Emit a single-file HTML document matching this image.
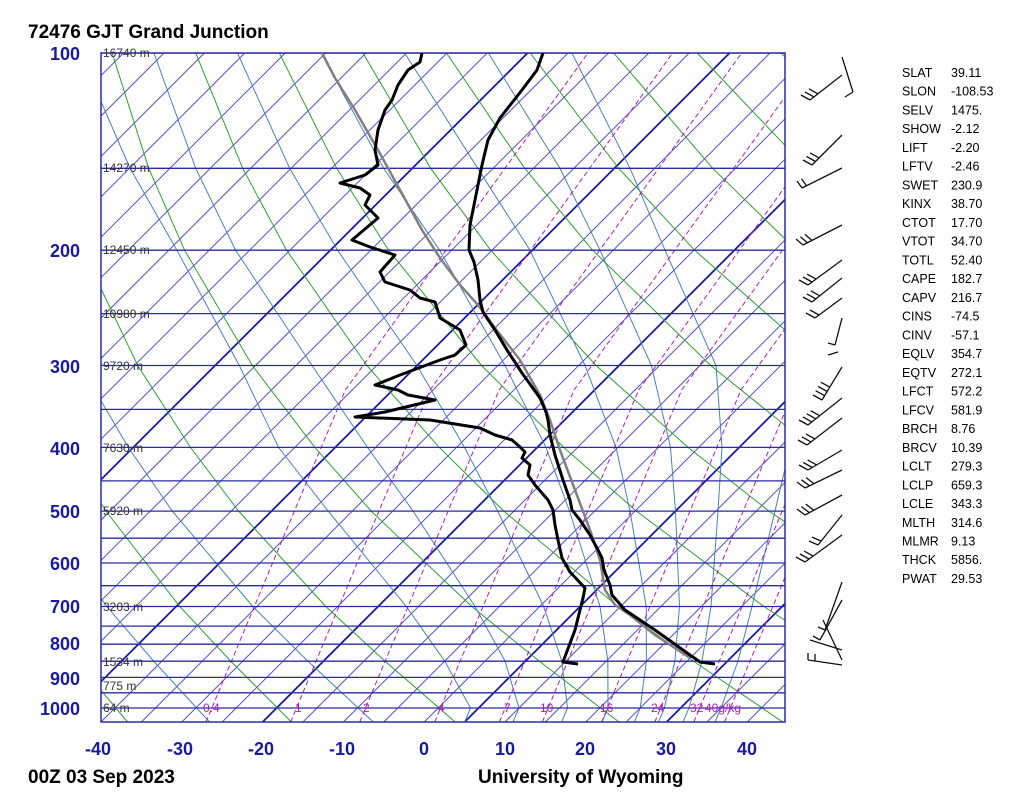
<!DOCTYPE html>
<html><head><meta charset="utf-8"><style>
body{margin:0;background:#fff;width:1024px;height:801px;overflow:hidden;font-family:"Liberation Sans",sans-serif}
svg{position:absolute;left:0;top:0}
</style></head><body>
<svg width="1024" height="801" xmlns="http://www.w3.org/2000/svg" font-family="Liberation Sans, sans-serif">
<defs><clipPath id="cp"><rect x="101" y="53" width="684" height="669"/></clipPath></defs>
<g clip-path="url(#cp)" fill="none">
<g stroke="#5050cc" stroke-width="1">
<line x1="-545.4" y1="722" x2="123.6" y2="53"/><line x1="-505" y1="722" x2="164" y2="53"/><line x1="-464.6" y1="722" x2="204.4" y2="53"/><line x1="-424.2" y1="722" x2="244.8" y2="53"/><line x1="-383.8" y1="722" x2="285.2" y2="53"/><line x1="-343.4" y1="722" x2="325.6" y2="53"/><line x1="-303" y1="722" x2="366" y2="53"/><line x1="-262.6" y1="722" x2="406.4" y2="53"/><line x1="-222.2" y1="722" x2="446.8" y2="53"/><line x1="-181.8" y1="722" x2="487.2" y2="53"/><line x1="-101" y1="722" x2="568" y2="53"/><line x1="-60.6" y1="722" x2="608.4" y2="53"/><line x1="-20.2" y1="722" x2="648.8" y2="53"/><line x1="20.2" y1="722" x2="689.2" y2="53"/><line x1="101" y1="722" x2="770" y2="53"/><line x1="141.4" y1="722" x2="810.4" y2="53"/><line x1="181.8" y1="722" x2="850.8" y2="53"/><line x1="222.2" y1="722" x2="891.2" y2="53"/><line x1="303" y1="722" x2="972" y2="53"/><line x1="343.4" y1="722" x2="1012.4" y2="53"/><line x1="383.8" y1="722" x2="1052.8" y2="53"/><line x1="424.2" y1="722" x2="1093.2" y2="53"/><line x1="505" y1="722" x2="1174" y2="53"/><line x1="545.4" y1="722" x2="1214.4" y2="53"/><line x1="585.8" y1="722" x2="1254.8" y2="53"/><line x1="626.2" y1="722" x2="1295.2" y2="53"/><line x1="707" y1="722" x2="1376" y2="53"/><line x1="747.4" y1="722" x2="1416.4" y2="53"/>
</g>
<g stroke="#1a1aa0" stroke-width="1.8">
<line x1="-141.4" y1="722" x2="527.6" y2="53"/><line x1="60.6" y1="722" x2="729.6" y2="53"/><line x1="262.6" y1="722" x2="931.6" y2="53"/><line x1="464.6" y1="722" x2="1133.6" y2="53"/><line x1="666.6" y1="722" x2="1335.6" y2="53"/>
</g>
<g stroke="#2ea02e" stroke-width="1">
<polyline points="127.6,722 76.4,661 33.8,606.5 -26.7,511"/>
<polyline points="291.4,722 230.6,661 179.8,606.5 105.9,511 66.1,447.4 23.1,365.5"/>
<polyline points="455.2,722 384.8,661 325.8,606.5 238.5,511 190.5,447.4 137.7,365.5 82.6,250.2 54.7,168.3 28.5,53"/>
<polyline points="619,722 539,661 471.8,606.5 371.1,511 314.9,447.4 252.3,365.5 184.6,250.2 148.7,168.3 112.1,53"/>
<polyline points="782.8,722 693.2,661 617.8,606.5 503.7,511 439.3,447.4 366.9,365.5 286.6,250.2 242.7,168.3 195.7,53"/>
<polyline points="946.6,722 847.4,661 763.8,606.5 636.3,511 563.7,447.4 481.5,365.5 388.6,250.2 336.7,168.3 279.3,53"/>
<polyline points="1001.6,661 909.8,606.5 768.9,511 688.1,447.4 596.1,365.5 490.6,250.2 430.7,168.3 362.9,53"/>
<polyline points="1055.8,606.5 901.5,511 812.5,447.4 710.7,365.5 592.6,250.2 524.7,168.3 446.5,53"/>
<polyline points="1034.1,511 936.9,447.4 825.3,365.5 694.6,250.2 618.7,168.3 530.1,53"/>
<polyline points="939.9,365.5 796.6,250.2 712.7,168.3 613.7,53"/>
<polyline points="898.6,250.2 806.7,168.3 697.3,53"/>
<polyline points="1000.6,250.2 900.7,168.3 780.9,53"/>
</g>
<g stroke="#4a80b8" stroke-width="1">
<polyline points="209.5,722 153.5,661 106.8,606.5 39.6,511"/>
<polyline points="373.3,722 307.7,661 252.8,606.5 172.2,511 128.3,447.4 80.4,365.5"/>
<polyline points="464.7,722 470.5,708 444.6,661 406.4,606.5 328.1,511 278.6,447.4 239.3,365.5 176.9,250.2 130,168.3 80,53"/>
<polyline points="513,722 519,708 505,661 475,606.5 413,511 367.5,447.4 312,365.5 235.6,250.2 195.7,168.3 153.9,53"/>
<polyline points="561.7,722 567.5,708 561.8,661 543.7,606.5 497.7,511 464.5,447.4 417,365.5 337.6,250.2 289.7,168.3 237.5,53"/>
<polyline points="602,722 608,708 607.8,661 600,606.5 569.5,511 546,447.4 505,365.5 439.6,250.2 383.7,168.3 321.1,53"/>
<polyline points="634.4,722 640.2,708 646.4,661 646.2,606.5 630,511 616,447.4 585,365.5 530,250.2 477.7,168.3 404.7,53"/>
<polyline points="658.6,722 664.4,708 674.9,661 679.5,606.5 675.5,511 670.5,447.4 651.4,365.5 600,250.2 560,168.3 488.3,53"/>
<polyline points="683,722 689,708 702,661 711,606.5 718,511 722,447.4 716,365.5 665,250.2 630,168.3 571.9,53"/>
<polyline points="715,722 721,708 738,661 752,606.5 775,511 790,447.4"/>
</g>
<g stroke="#b020b0" stroke-width="1" stroke-dasharray="5,3">
<polyline points="206,722 278,550 345.4,390 588,53"/>
<polyline points="290.6,722 362.6,550 430,390 672.6,53"/>
<polyline points="359.7,722 431.7,550 499.1,390 741.7,53"/>
<polyline points="434.7,722 506.7,550 574.1,390 816.7,53"/>
<polyline points="499.3,722 571.3,550 638.7,390 881.3,53"/>
<polyline points="542.3,722 614.3,550 681.7,390 924.3,53"/>
<polyline points="601.6,722 673.6,550 741,390 983.6,53"/>
<polyline points="654.8,722 726.8,550 794.2,390 1036.8,53"/>
<polyline points="693.8,722 765.8,550 833.2,390"/>
<polyline points="724.5,722 796.5,550 863.9,390"/>
</g>
<g stroke="#2a2aa8" stroke-width="1.3">
<line x1="101" y1="53" x2="785" y2="53"/><line x1="101" y1="168.3" x2="785" y2="168.3"/><line x1="101" y1="250.2" x2="785" y2="250.2"/><line x1="101" y1="313.6" x2="785" y2="313.6"/><line x1="101" y1="365.5" x2="785" y2="365.5"/><line x1="101" y1="409.4" x2="785" y2="409.4"/><line x1="101" y1="447.4" x2="785" y2="447.4"/><line x1="101" y1="480.9" x2="785" y2="480.9"/><line x1="101" y1="511.1" x2="785" y2="511.1"/><line x1="101" y1="538.2" x2="785" y2="538.2"/><line x1="101" y1="563" x2="785" y2="563"/><line x1="101" y1="585.7" x2="785" y2="585.7"/><line x1="101" y1="606.5" x2="785" y2="606.5"/><line x1="101" y1="626.1" x2="785" y2="626.1"/><line x1="101" y1="644.2" x2="785" y2="644.2"/><line x1="101" y1="661.2" x2="785" y2="661.2"/><line x1="101" y1="677.4" x2="785" y2="677.4"/><line x1="101" y1="692.8" x2="785" y2="692.8"/><line x1="101" y1="708" x2="785" y2="708"/>
</g>
</g>
<rect x="101" y="53" width="684" height="669" fill="none" stroke="#2a2aa8" stroke-width="1.5"/>
<g clip-path="url(#cp)" fill="none" stroke-linejoin="round">
<polyline stroke="#808080" stroke-width="2.5" points="322,53 335,78 355,110 378,150 400,190 422,230 440,258 460,285 478,305 495,328 520,360 540,395 550,420 560,450 575,490 590,530 600,560 605,590 615,605 630,615 655,635 690,658"/>
<polyline stroke="#000" stroke-width="3" points="543,53 537,70 522,90 500,118 488,140 482,165 476,195 470,225 469,250 474,262 478,280 480,300 483,312 495,330 507,350 522,373 540,398 546,412 548,420 550,435 555,455 563,480 570,500 572,510 580,520 590,535 598,550 602,558 604,570 610,585 612,595 625,610 655,630 690,655 700,662 715,664"/>
<polyline stroke="#000" stroke-width="3" points="422,53 420,62 408,70 398,85 392,100 385,110 378,130 375,150 378,165 365,175 340,183 360,188 370,195 365,205 378,218 352,240 370,247 395,255 380,272 385,282 410,290 420,298 435,302 440,318 460,330 466,345 455,355 440,360 400,375 375,385 398,390 408,395 435,400 385,412 355,417 430,420 480,428 495,435 512,440 520,447 525,452 522,458 530,465 528,475 535,485 548,500 553,510 555,525 558,540 562,558 570,572 585,588 583,598 575,630 563,662 578,664"/>
</g>
<g font-size="12" fill="#333">
<text x="103" y="57">16740 m</text><text x="103" y="172">14270 m</text><text x="103" y="254">12450 m</text><text x="103" y="318">10980 m</text><text x="103" y="370">9720 m</text><text x="103" y="452">7630 m</text><text x="103" y="515">5920 m</text><text x="103" y="611">3203 m</text><text x="103" y="666">1534 m</text><text x="103" y="690">775 m</text><text x="103" y="712">64 m</text>
</g>
<g font-size="12" fill="#b020b0">
<text x="203" y="712">0.4</text><text x="295" y="712">1</text><text x="363" y="712">2</text><text x="438" y="712">4</text><text x="504" y="712">7</text><text x="540" y="712">10</text><text x="600" y="712">16</text><text x="651" y="712">24</text><text x="690" y="712">32</text><text x="705" y="712">40g/kg</text>
</g>
<g stroke="#111" stroke-width="1.3" fill="none">
<line x1="842" y1="57" x2="853" y2="92"/><line x1="853" y1="92" x2="845" y2="97"/>
<line x1="842" y1="75" x2="810" y2="100"/><line x1="810" y1="100" x2="801" y2="95"/><line x1="813.9" y1="96.9" x2="804.9" y2="91.9"/><line x1="817.9" y1="93.8" x2="808.9" y2="88.8"/>
<line x1="842" y1="135" x2="812" y2="165"/><line x1="812" y1="165" x2="803" y2="160"/><line x1="815.5" y1="161.5" x2="806.5" y2="156.5"/><line x1="819.1" y1="157.9" x2="810.1" y2="152.9"/>
<line x1="842" y1="168" x2="802" y2="188"/><line x1="802" y1="188" x2="797" y2="181"/><line x1="806.5" y1="185.8" x2="801.5" y2="178.8"/>
<line x1="842" y1="225" x2="803" y2="245"/><line x1="803" y1="245" x2="796" y2="239"/><line x1="807.4" y1="242.7" x2="800.4" y2="236.7"/><line x1="811.9" y1="240.4" x2="804.9" y2="234.4"/>
<line x1="842" y1="260" x2="808" y2="285"/><line x1="808" y1="285" x2="799" y2="280"/><line x1="812" y1="282" x2="803" y2="277"/><line x1="816.1" y1="279.1" x2="807.1" y2="274.1"/>
<line x1="842" y1="278" x2="812" y2="302"/><line x1="812" y1="302" x2="803" y2="297"/><line x1="815.9" y1="298.9" x2="806.9" y2="293.9"/><line x1="819.8" y1="295.8" x2="810.8" y2="290.8"/>
<line x1="842" y1="298" x2="815" y2="318"/><line x1="815" y1="318" x2="806" y2="313"/><line x1="819" y1="315" x2="810" y2="310"/>
<line x1="842" y1="318" x2="835" y2="345"/><line x1="835" y1="345" x2="828" y2="343"/>
<line x1="838" y1="352" x2="828" y2="355"/>
<line x1="842" y1="367" x2="822" y2="400"/><line x1="822" y1="400" x2="813" y2="395"/><line x1="824.6" y1="395.7" x2="815.6" y2="390.7"/><line x1="827.2" y1="391.5" x2="818.2" y2="386.5"/><line x1="829.8" y1="387.2" x2="820.8" y2="382.2"/>
<line x1="842" y1="398" x2="808" y2="425"/><line x1="808" y1="425" x2="799" y2="420"/><line x1="811.9" y1="421.9" x2="802.9" y2="416.9"/><line x1="815.8" y1="418.8" x2="806.8" y2="413.8"/><line x1="819.7" y1="415.7" x2="810.7" y2="410.7"/>
<line x1="842" y1="418" x2="807" y2="445"/><line x1="807" y1="445" x2="798" y2="440"/><line x1="811" y1="441.9" x2="802" y2="436.9"/><line x1="814.9" y1="438.9" x2="805.9" y2="433.9"/>
<line x1="842" y1="450" x2="808" y2="470"/><line x1="808" y1="470" x2="799" y2="465"/><line x1="812.3" y1="467.5" x2="803.3" y2="462.5"/><line x1="816.6" y1="464.9" x2="807.6" y2="459.9"/>
<line x1="842" y1="470" x2="805" y2="488"/><line x1="805" y1="488" x2="797" y2="482"/><line x1="809.5" y1="485.8" x2="801.5" y2="479.8"/><line x1="814" y1="483.6" x2="806" y2="477.6"/>
<line x1="842" y1="495" x2="805" y2="515"/><line x1="805" y1="515" x2="797" y2="509"/><line x1="809.4" y1="512.6" x2="801.4" y2="506.6"/><line x1="813.8" y1="510.2" x2="805.8" y2="504.2"/>
<line x1="842" y1="515" x2="818" y2="545"/><line x1="818" y1="545" x2="809" y2="541"/><line x1="821.1" y1="541.1" x2="812.1" y2="537.1"/>
<line x1="842" y1="535" x2="805" y2="562"/><line x1="805" y1="562" x2="796" y2="557"/><line x1="809" y1="559" x2="800" y2="554"/><line x1="813.1" y1="556.1" x2="804.1" y2="551.1"/>
<line x1="842" y1="582" x2="825" y2="630"/><line x1="842" y1="600" x2="820" y2="640"/><line x1="810" y1="640" x2="842" y2="650"/><line x1="823" y1="620" x2="842" y2="660"/><line x1="825" y1="630" x2="818" y2="627"/><line x1="820" y1="640" x2="813" y2="636"/>
<line x1="808" y1="660" x2="842" y2="665"/><line x1="808" y1="660" x2="808" y2="653"/><line x1="815" y1="661" x2="815" y2="654"/>
</g>
<g font-weight="bold" fill="#1a1aa0" font-size="18">
<text x="80" y="60" text-anchor="end">100</text>
<text x="80" y="257" text-anchor="end">200</text>
<text x="80" y="373" text-anchor="end">300</text>
<text x="80" y="455" text-anchor="end">400</text>
<text x="80" y="518" text-anchor="end">500</text>
<text x="80" y="570" text-anchor="end">600</text>
<text x="80" y="613" text-anchor="end">700</text>
<text x="80" y="650" text-anchor="end">800</text>
<text x="80" y="685" text-anchor="end">900</text>
<text x="80" y="715" text-anchor="end">1000</text>
<g text-anchor="middle">
<text x="98" y="755">-40</text><text x="180" y="755">-30</text><text x="261" y="755">-20</text><text x="342" y="755">-10</text><text x="424" y="755">0</text><text x="505" y="755">10</text><text x="585" y="755">20</text><text x="666" y="755">30</text><text x="747" y="755">40</text>
</g></g>
<g font-weight="bold" fill="#000" font-size="19">
<text x="28" y="38">72476 GJT Grand Junction</text>
<text x="28" y="783">00Z 03 Sep 2023</text>
<text x="478" y="783">University of Wyoming</text>
</g>
<g font-size="12.5" fill="#000">
<text x="902" y="77">SLAT</text><text x="951" y="77">39.11</text>
<text x="902" y="95.7">SLON</text><text x="951" y="95.7">-108.53</text>
<text x="902" y="114.5">SELV</text><text x="951" y="114.5">1475.</text>
<text x="902" y="133.2">SHOW</text><text x="951" y="133.2">-2.12</text>
<text x="902" y="152">LIFT</text><text x="951" y="152">-2.20</text>
<text x="902" y="170.7">LFTV</text><text x="951" y="170.7">-2.46</text>
<text x="902" y="189.4">SWET</text><text x="951" y="189.4">230.9</text>
<text x="902" y="208.2">KINX</text><text x="951" y="208.2">38.70</text>
<text x="902" y="226.9">CTOT</text><text x="951" y="226.9">17.70</text>
<text x="902" y="245.7">VTOT</text><text x="951" y="245.7">34.70</text>
<text x="902" y="264.4">TOTL</text><text x="951" y="264.4">52.40</text>
<text x="902" y="283.1">CAPE</text><text x="951" y="283.1">182.7</text>
<text x="902" y="301.9">CAPV</text><text x="951" y="301.9">216.7</text>
<text x="902" y="320.6">CINS</text><text x="951" y="320.6">-74.5</text>
<text x="902" y="339.4">CINV</text><text x="951" y="339.4">-57.1</text>
<text x="902" y="358.1">EQLV</text><text x="951" y="358.1">354.7</text>
<text x="902" y="376.8">EQTV</text><text x="951" y="376.8">272.1</text>
<text x="902" y="395.6">LFCT</text><text x="951" y="395.6">572.2</text>
<text x="902" y="414.3">LFCV</text><text x="951" y="414.3">581.9</text>
<text x="902" y="433.1">BRCH</text><text x="951" y="433.1">8.76</text>
<text x="902" y="451.8">BRCV</text><text x="951" y="451.8">10.39</text>
<text x="902" y="470.5">LCLT</text><text x="951" y="470.5">279.3</text>
<text x="902" y="489.3">LCLP</text><text x="951" y="489.3">659.3</text>
<text x="902" y="508">LCLE</text><text x="951" y="508">343.3</text>
<text x="902" y="526.8">MLTH</text><text x="951" y="526.8">314.6</text>
<text x="902" y="545.5">MLMR</text><text x="951" y="545.5">9.13</text>
<text x="902" y="564.2">THCK</text><text x="951" y="564.2">5856.</text>
<text x="902" y="583">PWAT</text><text x="951" y="583">29.53</text>
</g>
</svg>
</body></html>
